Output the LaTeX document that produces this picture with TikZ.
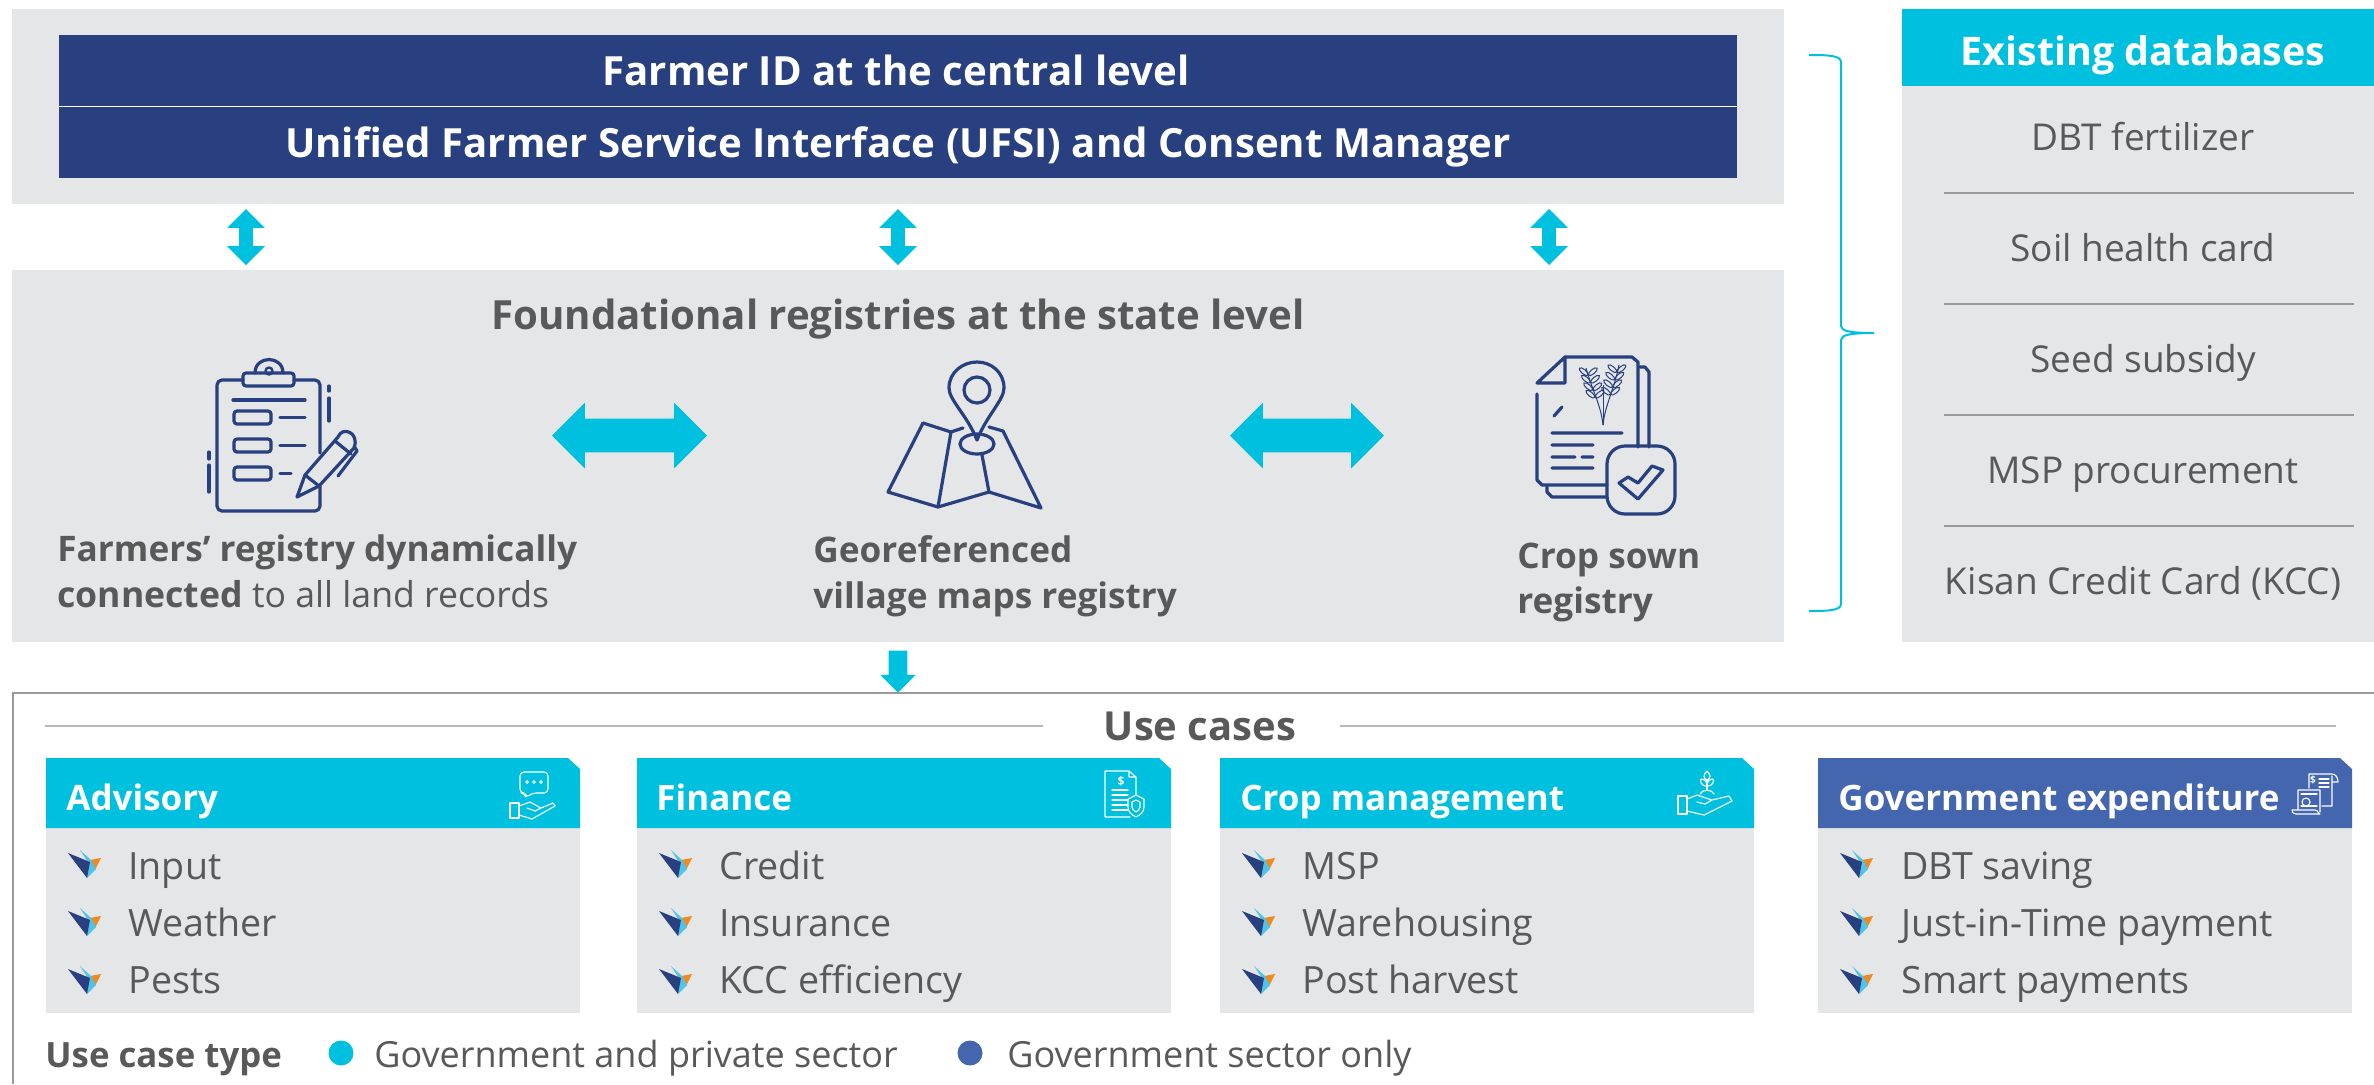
\documentclass[tikz,border=0pt]{standalone}
\usepackage{fontspec}
\setmainfont{Open Sans}
\usetikzlibrary{shapes.arrows,shapes.geometric}
\definecolor{cyanb}{HTML}{00C0E0}
\definecolor{navyb}{HTML}{28407F}
\definecolor{greyb}{HTML}{E5E6E8}
\definecolor{blueb}{HTML}{4466AF}
\definecolor{texb}{HTML}{595959}
\definecolor{lineb}{HTML}{9A9A9A}
\definecolor{skyb}{HTML}{4FC3E8}
\definecolor{orab}{HTML}{F08A1E}
\tikzset{
  panel/.style 2 args={anchor=north west,inner sep=0,fill=greyb,minimum width=#1*0.5pt,minimum height=#2*0.5pt},
  navybar/.style 2 args={anchor=north west,inner sep=0,fill=navyb,minimum width=#1*0.5pt,minimum height=#2*0.5pt},
  txt/.style={anchor=base west,inner sep=0,text=texb},
  ctxt/.style={anchor=base,inner sep=0,text=texb},
  whitetxt/.style={anchor=base,inner sep=0,text=white},
  headtxt/.style={anchor=base west,inner sep=0,text=white,font=\fontsize{17.5}{20}\selectfont\bfseries},
  itemtxt/.style={txt,font=\fontsize{18.8}{20}\selectfont},
  dbl/.style={double arrow,fill=cyanb,double arrow head indent=0pt},
  icon/.style={navyb,line width=1.6pt,line cap=round,line join=round,fill=none},
  wicon/.style={white,line width=0.55pt,line join=round,line cap=round,fill=none},
}
\newcommand{\bulletmark}[2]{%
  \begin{scope}[shift={(#1,#2)}]
    \fill[orab] (5,-4) -- (16,-6) -- (10,6) -- cycle;
    \fill[skyb] (-5,-14) -- (6,-4) -- (11,5) -- (2,14) -- (3,-2) -- cycle;
    \fill[navyb] (-17,-11) -- (5,-2) -- (2,14) -- cycle;
  \end{scope}}
\begin{document}
\begin{tikzpicture}[x=0.5pt,y=-0.5pt]
\useasboundingbox (0,0) rectangle (2374,1084);
% top panel
\node[panel={1772}{195}] (toppanel) at (12,9) {};
\node[navybar={1678}{143}] (bar) at (59,35) {};
\coordinate (divl) at (59,106.5);
\coordinate (divr) at (1737,106.5);
\draw[white,line width=0.5pt] (divl) -- (divr);
\node[whitetxt,font=\fontsize{20.1}{22}\selectfont\bfseries] (farmerid) at (896,85.5) {Farmer ID at the central level};
\node[whitetxt,font=\fontsize{20.1}{22}\selectfont\bfseries] (ufsi) at (898,157.5) {Unified Farmer Service Interface (UFSI) and Consent Manager};
% state panel
\node[panel={1772}{372}] (state) at (12,270) {};
\node[ctxt,font=\fontsize{20.1}{22}\selectfont\bfseries] (found) at (898,329.5) {Foundational registries at the state level};
% vertical arrows
\foreach \n/\x in {va/246,vb/898,vc/1549}
  \node[dbl,shape border rotate=90,inner sep=3.25pt,minimum height=28pt,minimum width=18.5pt,double arrow head extend=6pt] (\n) at (\x,237) {};
% horizontal arrows
\node[dbl,inner sep=8.25pt,minimum height=77.5pt,minimum width=32.5pt,double arrow head extend=8pt] (ha) at (629.5,435.5) {};
\node[dbl,inner sep=8.25pt,minimum height=77pt,minimum width=32.5pt,double arrow head extend=8pt] (hb) at (1307,435.5) {};
% down arrow
\node[single arrow,fill=cyanb,inner sep=4.5pt,shape border rotate=270,single arrow head indent=0pt,minimum height=21pt,minimum width=17.5pt,single arrow head extend=4.25pt] (down) at (898,667) {};
% clipboard icon
\draw[icon] (320,453) -- (320,385) arc[start angle=0,end angle=-90,radius=5] -- (294,380) (243,380) -- (222,380) arc[start angle=270,end angle=180,radius=5] -- (217,506) arc[start angle=180,end angle=90,radius=5] -- (315,511) arc[start angle=90,end angle=0,radius=5] -- (320,486);
\draw[icon,rounded corners=1.5pt] (243,386) rectangle (294,373);
\draw[icon] (255,373) .. controls (255,355) and (283,355) .. (283,373);
\draw[icon,line width=1.2pt] (269,371) circle[radius=3.5];
\draw[icon] (233,400) -- (305,400);
\foreach \y in {411,439,467} \draw[icon,rounded corners=1.5pt] (234,\y) rectangle (271,\y+13);
\draw[icon] (280,417.5) -- (305,417.5) (280,445.5) -- (305,445.5) (280,473.5) -- (291,473.5);
\draw[icon] (329,386) -- (329,391) (329,398) -- (329,421) (209,452) -- (209,459) (209,465) -- (209,492);
\draw[icon,fill=greyb] (297,497) -- (305,475) -- (338,437) .. controls (342,426) and (360,432) .. (354,448) -- (319,486) -- cycle;
\draw[icon] (305,475) -- (319,486) (335,441) -- (351,454);
\draw[icon] (354,446) -- (357,451) -- (338,476);
% map icon
\draw[icon] (963,428) -- (951,432) -- (923,423) -- (888,492) -- (938,507) -- (989,492) -- (1041,508) -- (1003,431) -- (989,427);
\draw[icon] (951,432) -- (938,507) (982,455) -- (989,492);
\draw[icon,fill=greyb] (977,440) .. controls (967,415) and (949,400) .. (949,388) .. controls (949,372) and (963,362) .. (977,362) .. controls (991,362) and (1004,372) .. (1004,388) .. controls (1004,400) and (987,415) .. (977,440) -- cycle;
\draw[icon] (977,390) ellipse[x radius=13,y radius=13];
\draw[icon] (977,444) ellipse[x radius=17,y radius=10];
% crop icon
\draw[icon] (1565,357) -- (1632,357) -- (1638,362) -- (1638,447);
\draw[icon] (1640,367) -- (1645,367) -- (1649,372) -- (1649,447);
\draw[icon] (1565,357) -- (1537,383) -- (1565,383) -- cycle;
\draw[icon] (1537,394) -- (1537,480) -- (1542,485) -- (1607,485);
\draw[icon] (1547,487) -- (1547,492) -- (1552,497) -- (1607,497);
\draw[icon,rounded corners=9pt] (1607,446) rectangle (1675,514);
\draw[icon] (1619,483) -- (1628,477) -- (1638,483) -- (1652,466) -- (1663,470) -- (1638,499) -- cycle;
\draw[icon] (1552,433) -- (1622,433) (1552,445) -- (1593,445) (1552,457) -- (1575,457) (1582,457) -- (1593,457) (1552,468) -- (1593,468) (1554,416) -- (1562,407);
\begin{scope}[navyb,line width=0.5pt]
\draw (1603,425) .. controls (1601,405) and (1592,390) .. (1586,368);
\draw (1603,425) .. controls (1605,405) and (1614,390) .. (1619,365);
\draw (1603,425) -- (1603,385);
\foreach \t in {0.15,0.3,0.45,0.6}{
  \draw[rotate around={-40:({1586+15*\t},{368+50*\t})}] ({1586+15*\t-6},{368+50*\t}) ellipse[x radius=5.5,y radius=2.2];
  \draw[rotate around={40:({1586+15*\t},{368+50*\t})}] ({1586+15*\t+6},{368+50*\t}) ellipse[x radius=5.5,y radius=2.2];
  \draw[rotate around={-40:({1619-14*\t},{365+50*\t})}] ({1619-14*\t-6},{365+50*\t}) ellipse[x radius=5.5,y radius=2.2];
  \draw[rotate around={40:({1619-14*\t},{365+50*\t})}] ({1619-14*\t+6},{365+50*\t}) ellipse[x radius=5.5,y radius=2.2];
}
\end{scope}
% registry labels
\node[txt,font=\fontsize{17.6}{20}\selectfont\bfseries] (f1) at (57,561) {Farmers’ registry dynamically};
\node[txt,font=\fontsize{17.8}{20}\selectfont] (f2) at (57,607) {\textbf{connected} to all land records};
\node[txt,font=\fontsize{17.6}{20}\selectfont\bfseries] (g1) at (813,562) {Georeferenced};
\node[txt,font=\fontsize{17.6}{20}\selectfont\bfseries] (g2) at (813,608) {village maps registry};
\node[txt,font=\fontsize{17.6}{20}\selectfont\bfseries] (c1) at (1517,568) {Crop sown};
\node[txt,font=\fontsize{17.6}{20}\selectfont\bfseries] (c2) at (1517,613) {registry};
% brace
\draw[cyanb,line width=1pt] (1809,55) .. controls (1825,55) and (1841,55) .. (1841,62) -- (1841,326) .. controls (1841,331) and (1850,333) .. (1874,333) .. controls (1850,333) and (1841,335) .. (1841,340) -- (1841,604) .. controls (1841,611) and (1825,611) .. (1809,611);
% databases
\node[panel={472}{556}] (dbpanel) at (1902,86) {};
\node[anchor=north west,inner sep=0,fill=cyanb,minimum width=236pt,minimum height=38.5pt] (dbhead) at (1902,9) {};
\node[whitetxt,font=\fontsize{19.7}{22}\selectfont\bfseries] (dbtitle) at (2143,65) {Existing databases};
\foreach \y in {193,304,415,526} \draw[lineb,line width=0.8pt] (1944,\y) -- (2354,\y);
\foreach \n/\y/\t in {d1/150/DBT fertilizer,d2/261/Soil health card,d3/372/Seed subsidy,d4/483/MSP procurement,d5/594/Kisan Credit Card (KCC)}
  \node[ctxt,font=\fontsize{18.5}{20}\selectfont] (\n) at (2143,\y) {\t};
% use cases frame
\coordinate (fa) at (2374,693);
\coordinate (fb) at (13,693);
\coordinate (fc) at (13,1084);
\draw[lineb,line width=1pt] (fa) -- (fb) -- (fc);
\coordinate (ula) at (45,726);
\coordinate (ulb) at (1043,726);
\coordinate (ulc) at (1340,726);
\coordinate (uld) at (2336,726);
\draw[lineb!70,line width=1pt] (ula) -- (ulb) (ulc) -- (uld);
\node[ctxt,font=\fontsize{20}{22}\selectfont\bfseries] (uc) at (1200,740.5) {Use cases};
% cards
\foreach \n/\xa/\c in {a/46/cyanb,b/637/cyanb,c/1220/cyanb,d/1818/blueb}{
  \node[panel={534}{185}] (p\n) at (\xa,828) {};
  \fill[\c] (\xa,758) -- ({\xa+522},758) -- ({\xa+534},769) -- ({\xa+534},828) -- (\xa,828) -- cycle;
  \foreach \y in {864,922,980} \bulletmark{\xa+39}{\y};
}
\node[headtxt] (ha1) at (66,810.5) {Advisory};
\node[headtxt] (hb1) at (656,810.5) {Finance};
\node[headtxt] (hc1) at (1240,810.5) {Crop management};
\node[headtxt] (hd1) at (1838,810.5) {Government expenditure};
\foreach \n/\x/\y/\t in {i1/128/879/Input,i2/128/936/Weather,i3/128/993/Pests,
 j1/719/879/Credit,j2/719/936/Insurance,j3/719/993/KCC efficiency,
 k1/1302/879/MSP,k2/1302/936/Warehousing,k3/1302/993/Post harvest,
 l1/1901/879/DBT saving,l2/1901/936/Just-in-Time payment,l3/1901/993/Smart payments}
  \node[itemtxt] (\n) at (\x,\y) {\t};
% advisory icon
\draw[wicon,rounded corners=2pt] (525,793) -- (520,793) -- (520,772) -- (548,772) -- (548,793) -- (532,793) -- (526,798) -- cycle;
\foreach \x in {527,534,541} \draw[wicon] (\x,782) circle[radius=1.3];
\draw[wicon] (510,803) rectangle (519,818);
\draw[wicon] (519,806) -- (530,802) -- (541,808) -- (535,811) -- (527,808) (519,815) -- (532,819) -- (555,806) -- (553,803) -- (541,808);
% finance icon
\draw[wicon] (1129,771) -- (1105,771) -- (1105,817) -- (1130,817) (1129,771) -- (1136,777) -- (1136,795) (1129,771) -- (1129,777) -- (1136,777);
\node[inner sep=0,text=white,font=\fontsize{6}{7}\selectfont\bfseries] (dollar) at (1121,781) {\$};
\foreach \y in {790,795,800,805,810} \draw[wicon] (1112,\y) -- (1128,\y);
\draw[wicon,fill=cyanb] (1136,795) -- (1144,799) -- (1144,807) .. controls (1144,812) and (1140,815) .. (1136,817) .. controls (1132,815) and (1128,812) .. (1128,807) -- (1128,799) -- cycle;
\draw[wicon] (1136,800) -- (1140,802) -- (1140,807) .. controls (1140,809) and (1138,811) .. (1136,812) .. controls (1134,811) and (1132,809) .. (1132,807) -- (1132,802) -- cycle;
% crop management icon
\draw[wicon] (1678,796) rectangle (1687,814);
\draw[wicon] (1687,799) -- (1697,795) -- (1712,800) -- (1705,804) -- (1697,802) (1687,811) -- (1704,815) -- (1732,801) -- (1729,796) -- (1712,800);
\draw[wicon] (1700,794) .. controls (1702,789) and (1712,789) .. (1714,794);
\draw[wicon] (1707,790) -- (1707,780);
\draw[wicon] (1707,771) .. controls (1703,775) and (1703,778) .. (1707,780) .. controls (1711,778) and (1711,775) .. (1707,771);
\draw[wicon] (1707,786) .. controls (1700,786) and (1700,780) .. (1701,779) .. controls (1705,779) and (1707,782) .. (1707,786) .. controls (1714,786) and (1714,780) .. (1713,779) .. controls (1709,779) and (1707,782) .. (1707,786);
% government icon
\draw[wicon] (2309,788) -- (2309,774) -- (2332,774) .. controls (2336,774) and (2338,778) .. (2338,782) -- (2332,782) -- (2332,776) (2332,782) -- (2332,806) -- (2322,806);
\foreach \y in {779,783,787} \draw[wicon] (2319,\y) -- (2329,\y);
\draw[wicon] (2298,790) -- (2320,790) -- (2320,812) (2298,790) -- (2298,810) (2292,810) -- (2315,810) .. controls (2318,810) and (2318,814) .. (2320,814) -- (2296,814) .. controls (2293,814) and (2292,812) .. (2292,810);
\draw[wicon] (2306,802) circle[radius=4];
\foreach \y in {794,806} \draw[wicon] (2301,\y) -- (2317,\y);
\node[inner sep=0,text=white,font=\fontsize{5}{6}\selectfont\bfseries] (dollarb) at (2313,780) {\$};
% legend
\node[txt,font=\fontsize{17.4}{20}\selectfont\bfseries] (lg) at (45,1067) {Use case type};
\node[circle,fill=cyanb,inner sep=0,minimum size=12.5pt] (dota) at (341,1053) {};
\node[txt,font=\fontsize{18}{20}\selectfont] (lga) at (374,1067) {Government and private sector};
\node[circle,fill=blueb,inner sep=0,minimum size=12.5pt] (dotb) at (970,1053) {};
\node[txt,font=\fontsize{18}{20}\selectfont] (lgb) at (1007,1067) {Government sector only};
\end{tikzpicture}
\end{document}
